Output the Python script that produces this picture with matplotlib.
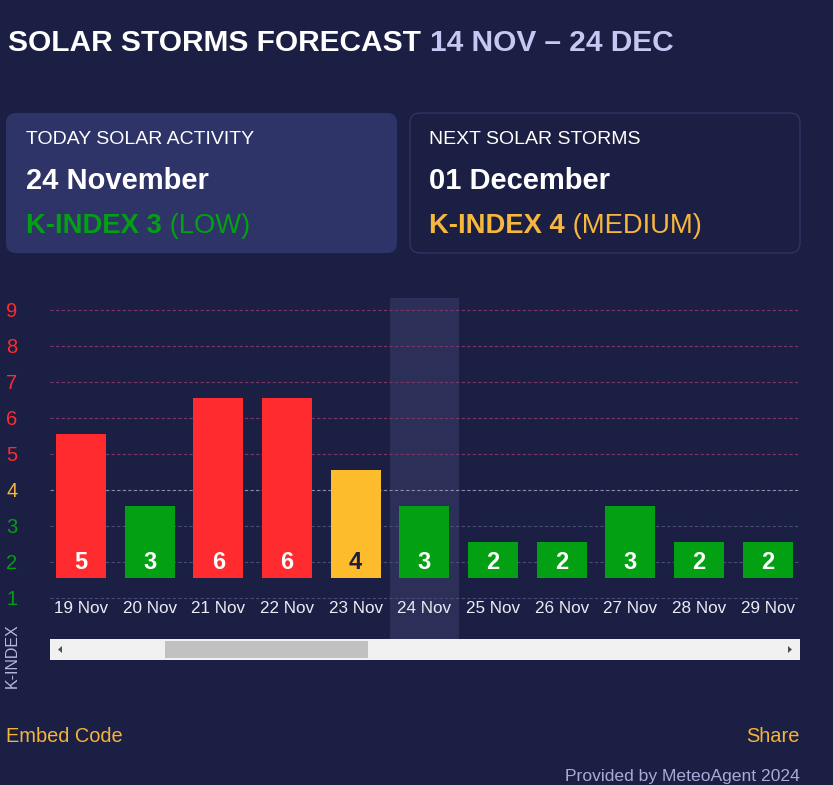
import matplotlib
matplotlib.use("Agg")
import matplotlib.pyplot as plt
from matplotlib.patches import FancyBboxPatch, Rectangle, Polygon

plt.rcParams['font.family'] = ['Liberation Sans', 'DejaVu Sans']

# data
dates = ["19 Nov", "20 Nov", "21 Nov", "22 Nov", "23 Nov", "24 Nov",
         "25 Nov", "26 Nov", "27 Nov", "28 Nov", "29 Nov"]
kindex = [5, 3, 6, 6, 4, 3, 2, 2, 3, 2, 2]
levels = [1, 2, 3, 4, 5, 6, 7, 8, 9]
today = "24 Nov"

BG = '#1c1f44'
RED = '#ff2b2e'
GREEN = '#02a012'
YELLOW = '#fcbc2c'


def level_color(k):
    if k >= 5:
        return RED
    if k == 4:
        return YELLOW
    return GREEN


W, H = 833, 785
fig = plt.figure(figsize=(W / 100, H / 100), dpi=100, facecolor=BG)

# bar chart area (pixel box 50..800 x 298..639)
ax = fig.add_axes([50 / W, (H - 639) / H, 750 / W, 341 / H])
ax.set_facecolor('none')
x = list(range(len(dates)))
base = 1.55
ax.set_xlim(-0.45, 10.47)
ax.set_ylim(-0.14, 9.33)

ti = dates.index(today)
ax.axvspan(ti - 0.5, ti + 0.5, color='#2c3058', zorder=0, lw=0)

for lvl in levels:
    if lvl >= 5:
        gc = '#7e3466'
    elif lvl == 4:
        gc = '#8c8ca6'
    else:
        gc = '#484c78'
    ax.axhline(lvl, color=gc, lw=0.8, ls=(0, (3, 2)), zorder=1)

cols = [level_color(k) for k in kindex]
ax.bar(x, [k - 1 for k in kindex], bottom=base, width=0.73, color=cols, zorder=2)

for i, k in enumerate(kindex):
    tc = BG if k == 4 else 'white'
    ax.text(i, 1.98, str(k), ha='center', va='center', fontsize=17,
            fontweight='bold', color=tc, zorder=3)
    ax.text(i, 0.72, dates[i], ha='center', va='center', fontsize=12.3,
            color='#ececf6', zorder=3)

ax.set_xticks([])
ax.set_yticks(levels)
ax.set_yticklabels([str(l) for l in levels])
ax.tick_params(axis='y', length=0, pad=27.4, labelsize=14.5)
for lab, lvl in zip(ax.get_yticklabels(), levels):
    lab.set_color(level_color(lvl) if lvl != 4 else '#f4b740')
    lab.set_horizontalalignment('center')
for s in ax.spines.values():
    s.set_visible(False)

# overlay in pixel coordinates for cards, texts, scrollbar
ov = fig.add_axes([0, 0, 1, 1], zorder=5)
ov.set_xlim(0, W)
ov.set_ylim(H, 0)
ov.axis('off')
ov.patch.set_alpha(0)

ov.text(8, 51, "SOLAR STORMS FORECAST", fontsize=21.5, fontweight='bold',
        color='white', va='baseline')
ov.text(430, 51, "14 NOV \u2013 24 DEC", fontsize=21.5, fontweight='bold',
        color='#c5c8f2', va='baseline')

ov.add_patch(FancyBboxPatch((6, 113), 391, 140,
                            boxstyle="round,pad=0,rounding_size=10",
                            fc='#2e3468', ec='none'))
ov.add_patch(FancyBboxPatch((410, 113), 390, 140,
                            boxstyle="round,pad=0,rounding_size=10",
                            fc=BG, ec='#343868', lw=0.8))

cards = [
    (26, "TODAY SOLAR ACTIVITY", "24 November", "K-INDEX 3", " (LOW)", GREEN),
    (429, "NEXT SOLAR STORMS", "01 December", "K-INDEX 4", " (MEDIUM)", '#f6b73c'),
]
for cx, head, day, kt, lvl_txt, c in cards:
    ov.text(cx, 144, head, fontsize=14, color='white', va='baseline')
    ov.text(cx, 189, day, fontsize=21, fontweight='bold', color='white',
            va='baseline')
    t1 = ov.text(cx, 233, kt, fontsize=19.7, fontweight='bold', color=c,
                 va='baseline')
    ov.annotate(lvl_txt, xy=(1, 0), xycoords=t1, va='bottom', ha='left',
                fontsize=19.7, color=c)

# scrollbar
ov.add_patch(Rectangle((50, 639), 750, 21, fc='#f1f1f1', ec='none'))
ov.add_patch(Rectangle((165, 641), 203, 17, fc='#c1c1c1', ec='none'))
ov.add_patch(Polygon([(62, 646), (62, 653), (58, 649.5)], fc='#505050'))
ov.add_patch(Polygon([(788, 646), (788, 653), (792, 649.5)], fc='#505050'))

ov.text(12, 656, "K-INDEX", rotation=90, ha='center', va='center',
        fontsize=11.5, color='#b5b8e0')

ov.text(6, 742, "Embed Code", fontsize=14.4, color='#f4b43a', va='baseline')
ov.text(800, 742, "Share", fontsize=14.4, color='#f4b43a', va='baseline',
        ha='right')
ov.text(800, 781, "Provided by MeteoAgent 2024", fontsize=12.6,
        color='#a8abd8', va='baseline', ha='right')

fig.savefig('out.png', dpi=100, facecolor=BG)
